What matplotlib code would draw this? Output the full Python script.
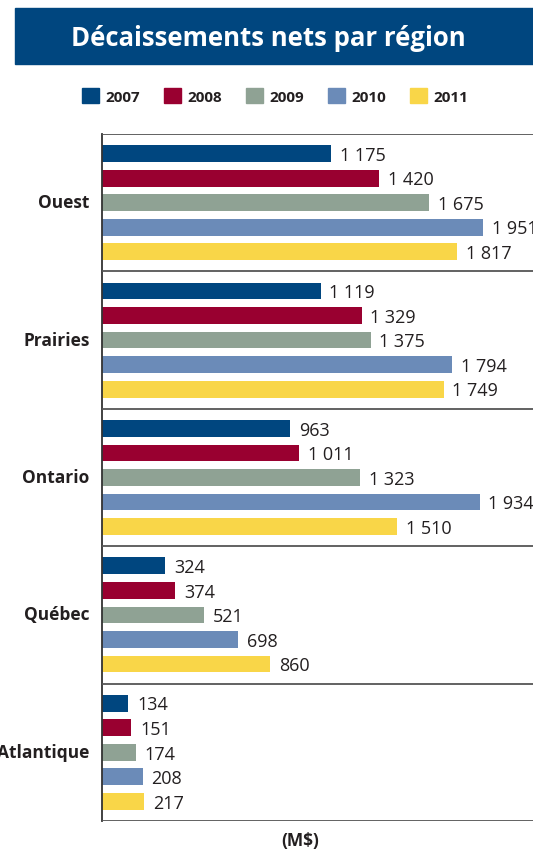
import matplotlib.pyplot as plt
from matplotlib.patches import Rectangle, Patch

plt.rcParams['font.family'] = ['Open Sans', 'DejaVu Sans']

regions = ['Ouest', 'Prairies', 'Ontario', 'Québec', 'Atlantique']
years = ['2007', '2008', '2009', '2010', '2011']
colors = ['#00467F', '#990030', '#8FA294', '#6B8BB8', '#F9D648']

# net disbursements in M$, one list per year, regions in the order above
v2007 = [1175, 1119, 963, 324, 134]
v2008 = [1420, 1329, 1011, 374, 151]
v2009 = [1675, 1375, 1323, 521, 174]
v2010 = [1951, 1794, 1934, 698, 208]
v2011 = [1817, 1749, 1510, 860, 217]
series = [v2007, v2008, v2009, v2010, v2011]

txt = '#231F20'
W, H = 533, 853
fig = plt.figure(figsize=(W / 100, H / 100), dpi=100)

# title banner
fig.patches.append(Rectangle((15 / W, 1 - 65 / H), 1, 56 / H,
                             transform=fig.transFigure, color='#00467F', zorder=0))
fig.text(268 / W, 1 - 38 / H, 'Décaissements nets par région', color='white',
         fontsize=18.5, fontweight='bold', ha='center', va='center')

# axes run past the right edge of the figure
xmax = 2300
ax = fig.add_axes([102 / W, 31 / H, xmax * 0.1953 / W, 687 / H])
group = 5.6
for i, reg in enumerate(regions):
    c = group * i + group / 2
    for j, vals in enumerate(series):
        y = c + (j - 2)
        ax.barh(y, vals[i], height=0.68, color=colors[j])
        ax.text(vals[i] + 45, y + 0.05, f'{vals[i]:,}'.replace(',', ' '),
                va='center', ha='left', fontsize=13, color=txt)
for k in range(len(regions) + 1):
    ax.axhline(group * k, color='#555555', lw=1.3, zorder=3)

ax.set_ylim(group * len(regions), 0)
ax.set_xlim(0, xmax)
ax.set_yticks([group * i + group / 2 - 0.1 for i in range(len(regions))])
ax.set_yticklabels(regions, fontsize=12.5, fontweight='bold', color=txt)
ax.tick_params(axis='y', length=0, pad=9)
ax.set_xticks([])
for s in ['top', 'right', 'bottom']:
    ax.spines[s].set_visible(False)
ax.spines['left'].set_color('#333333')
ax.spines['left'].set_linewidth(1.3)

fig.text(300 / W, 1 - 841 / H, '(M$)', fontsize=12.5, fontweight='bold',
         ha='center', va='center', color=txt)

handles = [Patch(color=c, label=y) for c, y in zip(colors, years)]
fig.legend(handles=handles, loc='center', bbox_to_anchor=(275 / W, 1 - 97 / H),
           ncol=5, frameon=False, handlelength=1.1, handleheight=1.1,
           handletextpad=0.4, columnspacing=1.6,
           prop={'weight': 'bold', 'size': 11})
for t in fig.legends[0].get_texts():
    t.set_color(txt)

fig.savefig('out.png', dpi=100)
